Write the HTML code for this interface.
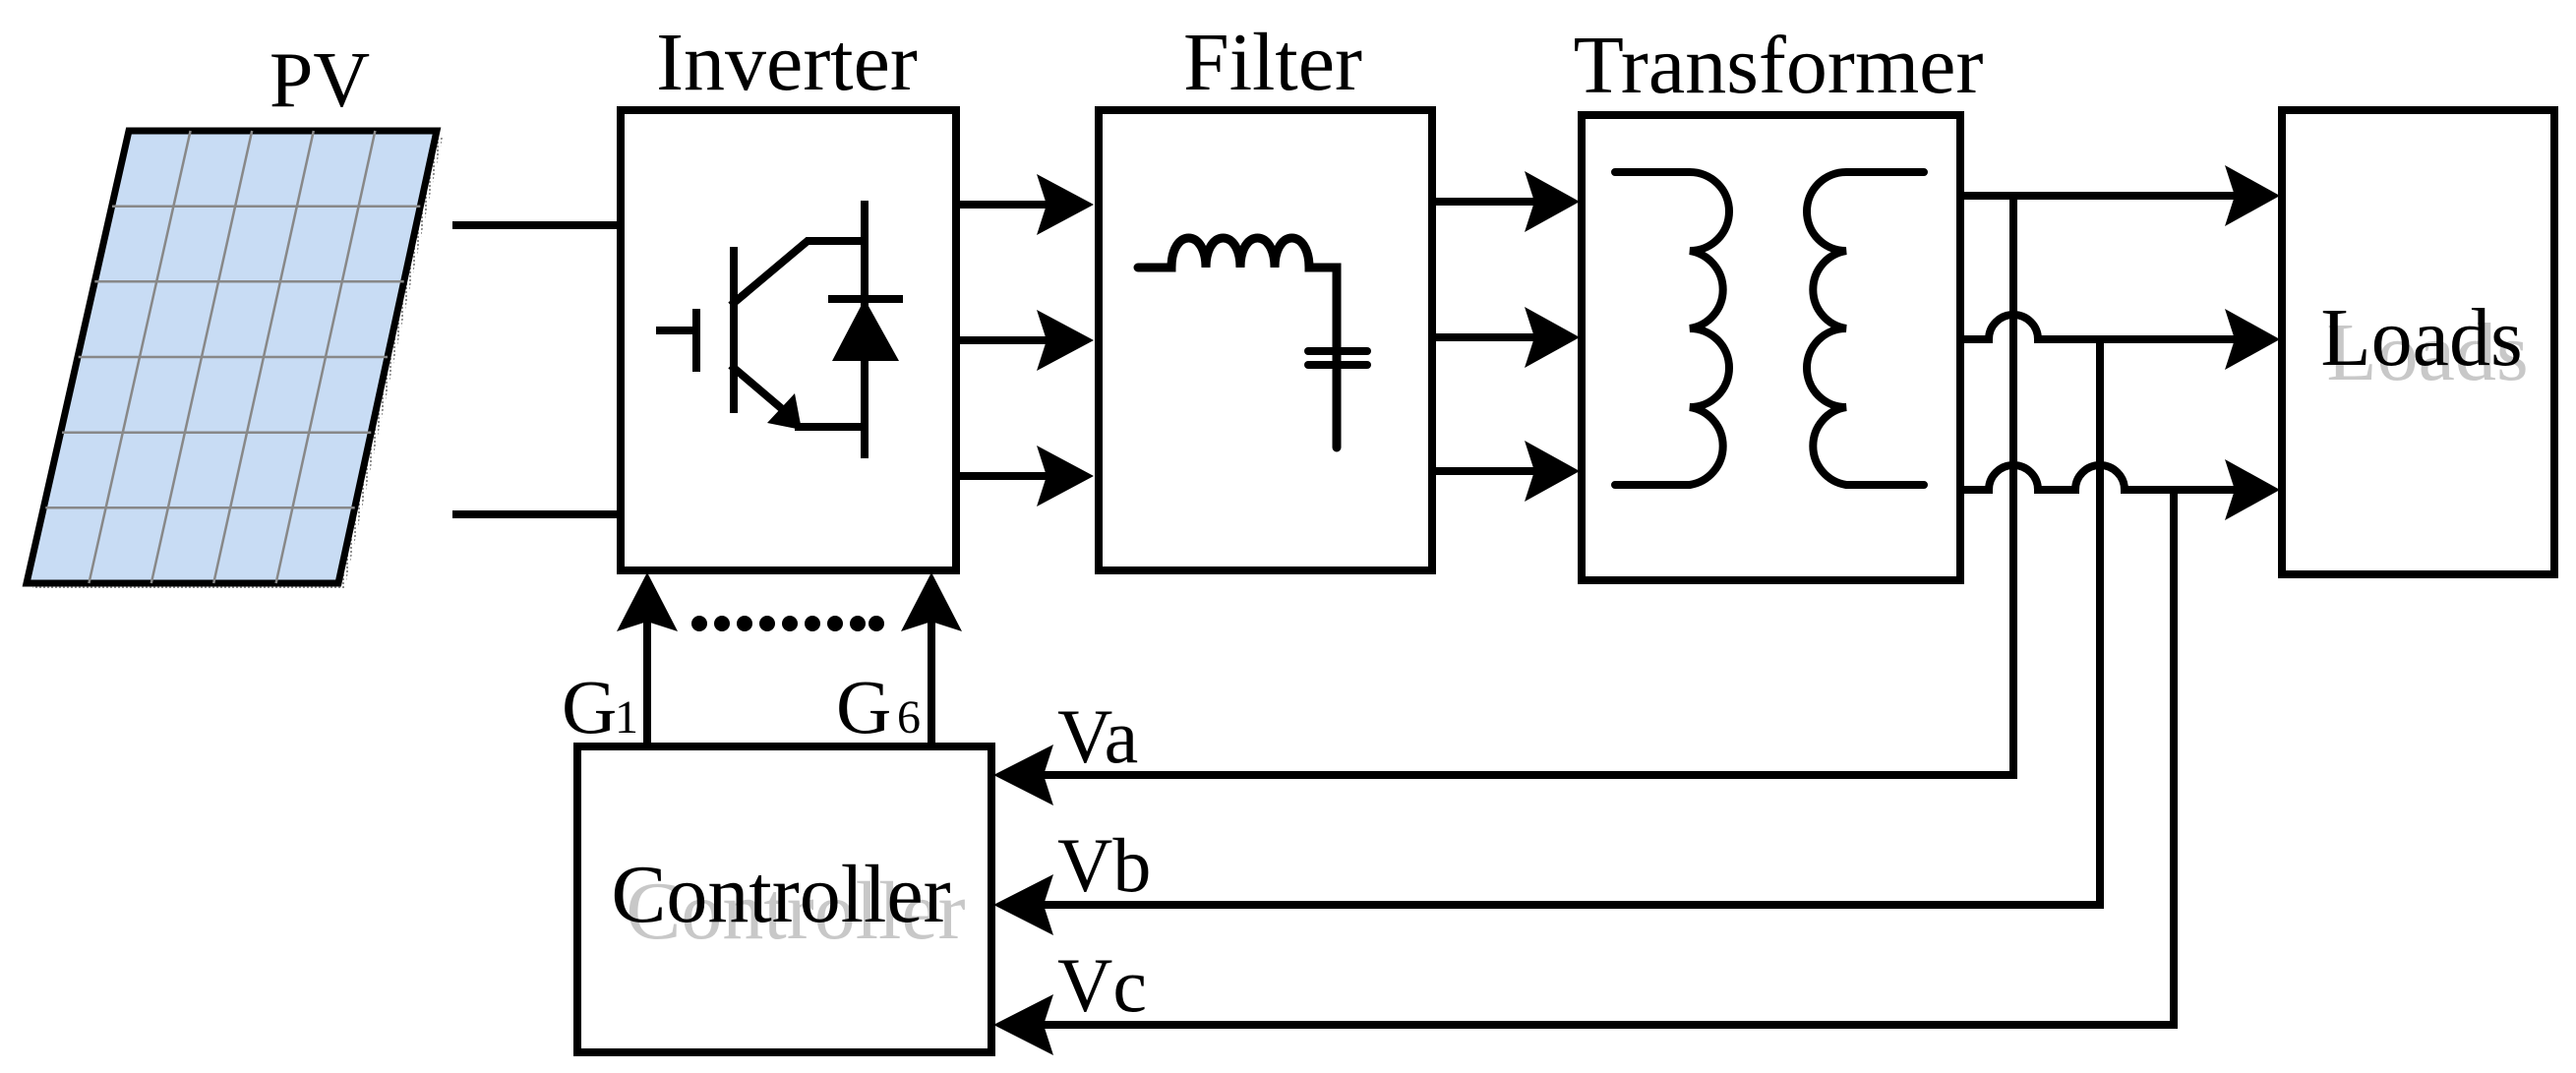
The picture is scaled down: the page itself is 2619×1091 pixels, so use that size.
<!DOCTYPE html>
<html><head><meta charset="utf-8"><style>
html,body{margin:0;padding:0;background:#fff}
svg{display:block}
text{font-family:"Liberation Serif",serif;}
</style></head><body>
<svg width="2619" height="1091" viewBox="0 0 2619 1091" xmlns="http://www.w3.org/2000/svg">
<defs>
<pattern id="dots" width="4" height="4" patternUnits="userSpaceOnUse"><rect width="2" height="2" fill="#444"/></pattern>
</defs>
<!-- PV panel -->
<polygon points="137,140 450,140 350,600 33,600" fill="url(#dots)" opacity="0.6"/>
<polygon points="131,133 444,133 344,593 27,593" fill="#c8dcf4" stroke="#000" stroke-width="7"/>
<g stroke="#888" stroke-width="2.5">
<line x1="193.6" y1="133" x2="90.4" y2="593"/>
<line x1="256.2" y1="133" x2="153.8" y2="593"/>
<line x1="318.8" y1="133" x2="217.2" y2="593"/>
<line x1="381.4" y1="133" x2="280.6" y2="593"/>
<line x1="114" y1="209.7" x2="427.3" y2="209.7"/>
<line x1="96.3" y1="286.3" x2="410.7" y2="286.3"/>
<line x1="79.7" y1="363" x2="394" y2="363"/>
<line x1="63" y1="439.7" x2="377.3" y2="439.7"/>
<line x1="46.3" y1="516.3" x2="360.7" y2="516.3"/>
</g>
<text x="325" y="108" font-size="80" text-anchor="middle">PV</text>
<text x="800" y="91" font-size="84" text-anchor="middle">Inverter</text>
<text x="1294" y="91" font-size="84" text-anchor="middle">Filter</text>
<text x="1808" y="94" font-size="84" text-anchor="middle">Transformer</text>

<g stroke="#000" stroke-width="8" fill="none" stroke-linecap="square">
<!-- PV lines -->
<line x1="464" y1="229" x2="631" y2="229"/>
<line x1="464" y1="523" x2="631" y2="523"/>
<!-- boxes -->
<rect x="631" y="112" width="341" height="468"/>
<rect x="1117" y="112" width="339" height="468"/>
<rect x="1608" y="117" width="385" height="473"/>
<rect x="2320" y="112" width="277" height="472"/>
<rect x="587" y="759" width="421" height="311"/>
<!-- inverter to filter -->
<line x1="972" y1="208" x2="1080" y2="208"/>
<line x1="972" y1="346" x2="1080" y2="346"/>
<line x1="972" y1="484" x2="1080" y2="484"/>
<!-- filter to transformer -->
<line x1="1456" y1="205" x2="1570" y2="205"/>
<line x1="1456" y1="343" x2="1570" y2="343"/>
<line x1="1456" y1="479" x2="1570" y2="479"/>
<!-- IGBT -->
<line x1="671" y1="336" x2="708" y2="336"/>
<line x1="708" y1="318" x2="708" y2="374"/>
<line x1="746" y1="255" x2="746" y2="416"/>
<polyline points="746,308 821,245 879,245"/>
<line x1="879" y1="208" x2="879" y2="462"/>
<line x1="746" y1="374" x2="800" y2="420"/>
<polyline points="812,434 879,434"/>
<line x1="846" y1="304" x2="914" y2="304"/>
<!-- filter internals -->
<path d="M1157,272 H1191 C1191,232 1226,232 1226,272 C1226,232 1261,232 1261,272 C1261,232 1296,232 1296,272 C1296,232 1331,232 1331,272 H1359 V455" stroke-width="9" stroke-linecap="round"/>
<line x1="1330" y1="357" x2="1390" y2="357" stroke-linecap="round"/>
<line x1="1330" y1="371" x2="1390" y2="371" stroke-linecap="round"/>
<!-- transformer coils -->
<path d="M1642,175 H1718 A40,40 0 0 1 1718,255 A40,40 0 0 1 1718,334 A40,40 0 0 1 1718,414 A40,40 0 0 1 1718,493 H1642" stroke-linecap="round"/>
<path d="M1956,175 H1877 A40,40 0 0 0 1877,255 A40,40 0 0 0 1877,334 A40,40 0 0 0 1877,414 A40,40 0 0 0 1877,493 H1956" stroke-linecap="round"/>
<!-- outputs -->
<line x1="1993" y1="199" x2="2280" y2="199"/>
<path d="M1993,345 H2022 A25,25 0 0 1 2072,345 H2280"/>
<path d="M1993,498 H2022 A25,25 0 0 1 2072,498 H2110 A25,25 0 0 1 2160,498 H2280"/>
<!-- taps -->
<polyline points="2047,199 2047,788 1040,788"/>
<polyline points="2135,345 2135,920 1040,920"/>
<polyline points="2210,498 2210,1042 1040,1042"/>
<!-- gate lines -->
<line x1="658" y1="620" x2="658" y2="759"/>
<line x1="947" y1="620" x2="947" y2="759"/>
</g>
<g fill="#000">
<!-- IGBT emitter arrow & diode -->
<polygon points="815,437 780,430 808,400"/>
<polygon points="879,304 846,367 914,367"/>
<!-- arrows right -->
<polygon points="1112,208 1054,177 1064,208 1054,239"/>
<polygon points="1112,346 1054,315 1064,346 1054,377"/>
<polygon points="1112,484 1054,453 1064,484 1054,515"/>
<polygon points="1606,205 1550,174 1560,205 1550,236"/>
<polygon points="1606,343 1550,312 1560,343 1550,374"/>
<polygon points="1606,479 1550,448 1560,479 1550,510"/>
<polygon points="2318,199 2262,168 2272,199 2262,230"/>
<polygon points="2318,345 2262,314 2272,345 2262,376"/>
<polygon points="2318,498 2262,467 2272,498 2262,529"/>
<!-- arrows left to controller -->
<polygon points="1010,788 1071,757 1061,788 1071,819"/>
<polygon points="1010,920 1071,889 1061,920 1071,951"/>
<polygon points="1010,1042 1071,1011 1061,1042 1071,1073"/>
<!-- gate arrows up -->
<polygon points="658,582 627,642 658,632 689,642"/>
<polygon points="947,582 916,642 947,632 978,642"/>
<!-- dots -->
<circle cx="711" cy="634" r="8"/><circle cx="734" cy="634" r="8"/><circle cx="757" cy="634" r="8"/>
<circle cx="780" cy="634" r="8"/><circle cx="803" cy="634" r="8"/><circle cx="826" cy="634" r="8"/>
<circle cx="849" cy="634" r="8"/><circle cx="872" cy="634" r="8"/><circle cx="891" cy="634" r="8"/>
</g>
<!-- labels -->
<text x="571" y="745" font-size="78">G</text><text x="625" y="745" font-size="48">1</text>
<text x="850" y="745" font-size="78">G</text><text x="912" y="745" font-size="48">6</text>
<text x="1075" y="775" font-size="78">Va</text>
<text x="1075" y="906" font-size="78">Vb</text>
<text x="1075" y="1028" font-size="78">Vc</text>
<text x="809" y="954" font-size="84" text-anchor="middle" fill="#c8c8c8">Controller</text>
<text x="794" y="937" font-size="84" text-anchor="middle">Controller</text>
<text x="2468" y="386" font-size="84" text-anchor="middle" fill="#c8c8c8">Loads</text>
<text x="2462" y="371" font-size="84" text-anchor="middle">Loads</text>
</svg>
</body></html>
